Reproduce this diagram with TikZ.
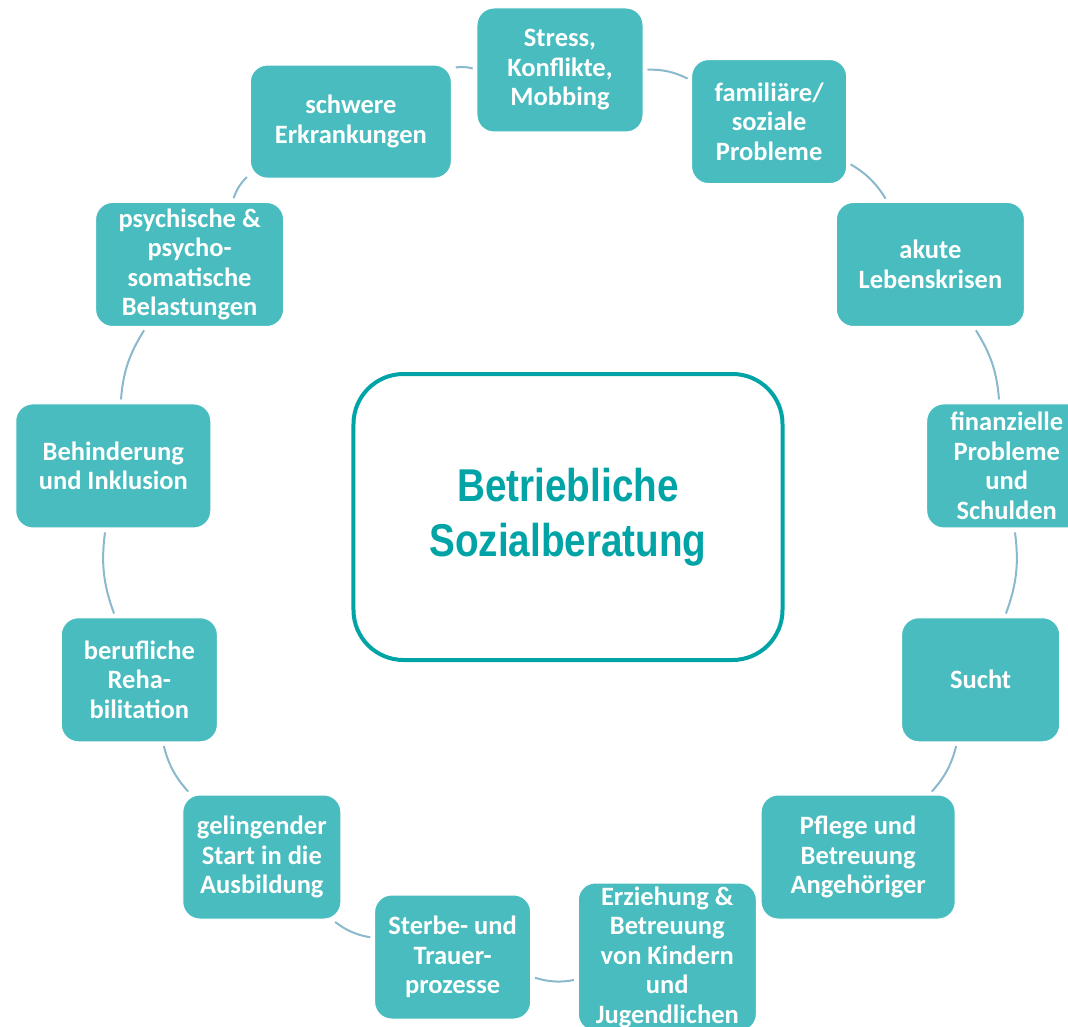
\documentclass[tikz,border=0pt]{standalone}
\usepackage{fontspec}
\setmainfont{Carlito}
\newfontfamily\titlefont[FakeStretch=0.84]{Liberation Sans}
\definecolor{boxteal}{HTML}{48BCBE}
\definecolor{darkteal}{HTML}{00A4A6}
\definecolor{linkblue}{HTML}{8AB8CC}
\tikzset{
topic/.style={
  rectangle,
  rounded corners=17pt,
  fill=boxteal,
  draw=white,
  line width=1pt,
  text=white,
  font=\fontsize{26.5}{29.5}\selectfont\bfseries,
  align=center,
  inner sep=0pt,
  minimum height=124pt
  },
hub/.style={
  rectangle,
  rounded corners=50pt,
  draw=darkteal,
  line width=4pt,
  fill=white,
  text=darkteal,
  font=\titlefont\bfseries\fontsize{46}{55}\selectfont,
  align=center,
  minimum width=429pt,
  minimum height=286pt
  },
link/.style={
  draw=linkblue,
  line width=2pt,
  shorten >=4pt,
  shorten <=4pt
  }
}

\begin{document}
\begin{tikzpicture}[x=1pt,y=1pt]
\useasboundingbox (-560,-506) rectangle (508,520);
\clip (-560,-506) rectangle (508,520);

\node[hub] (beratung) at (8,3) {Betriebliche\\Sozialberatung};

\node[topic, minimum width=166pt] (stress) at (90:450) {Stress,\\Konflikte,\\Mobbing};
\node[topic, minimum width=155pt] (familie) at (62.3:450) {familiäre/\\soziale\\Probleme};
\node[topic, minimum width=188pt] (krise) at (34.6:450) {akute\\Lebenskrisen};
\node[topic, minimum width=160pt] (finanzen) at (6.9:450) {finanzielle\\Probleme\\und\\Schulden};
\node[topic, minimum width=158pt] (sucht) at (-20.8:450) {Sucht};
\node[topic, minimum width=194pt] (pflege) at (-48.5:450) {Pflege und\\Betreuung\\Angehöriger};
\node[topic, minimum width=178pt, minimum height=148pt] (erziehung) at (-76.2:450) {Erziehung \&\\Betreuung\\von Kindern\\und\\Jugendlichen};
\node[topic, minimum width=156pt] (trauer) at (-103.8:450) {Sterbe- und\\Trauer-\\prozesse};
\node[topic, minimum width=158pt] (ausbildung) at (-131.5:450) {gelingender\\Start in die\\Ausbildung};
\node[topic, minimum width=156pt] (reha) at (-159.2:450) {berufliche\\Reha-\\bilitation};
\node[topic, minimum width=195pt] (inklusion) at (173.1:450) {Behinderung\\und Inklusion};
\node[topic, minimum width=188pt] (psyche) at (145.4:450) {psychische \&\\psycho-\\somatische\\Belastungen};
\node[topic, minimum width=201pt, minimum height=113pt] (erkrankung) at (117.7:450) {schwere\\Erkrankungen};

\draw[link] (stress) to[bend left=14] (familie);
\draw[link] (familie) to[bend left=14] (krise);
\draw[link] (krise) to[bend left=14] (finanzen);
\draw[link] (finanzen) to[bend left=14] (sucht);
\draw[link] (sucht) to[bend left=14] (pflege);
\draw[link] (erziehung) to[bend left=14] (trauer);
\draw[link] (trauer) to[bend left=14] (ausbildung);
\draw[link] (ausbildung) to[bend left=14] (reha);
\draw[link] (reha) to[bend left=14] (inklusion);
\draw[link] (inklusion) to[bend left=14] (psyche);
\draw[link] (psyche) to[bend left=14] (erkrankung);
\draw[link] (erkrankung) to[bend left=14] (stress);

\end{tikzpicture}
\end{document}
